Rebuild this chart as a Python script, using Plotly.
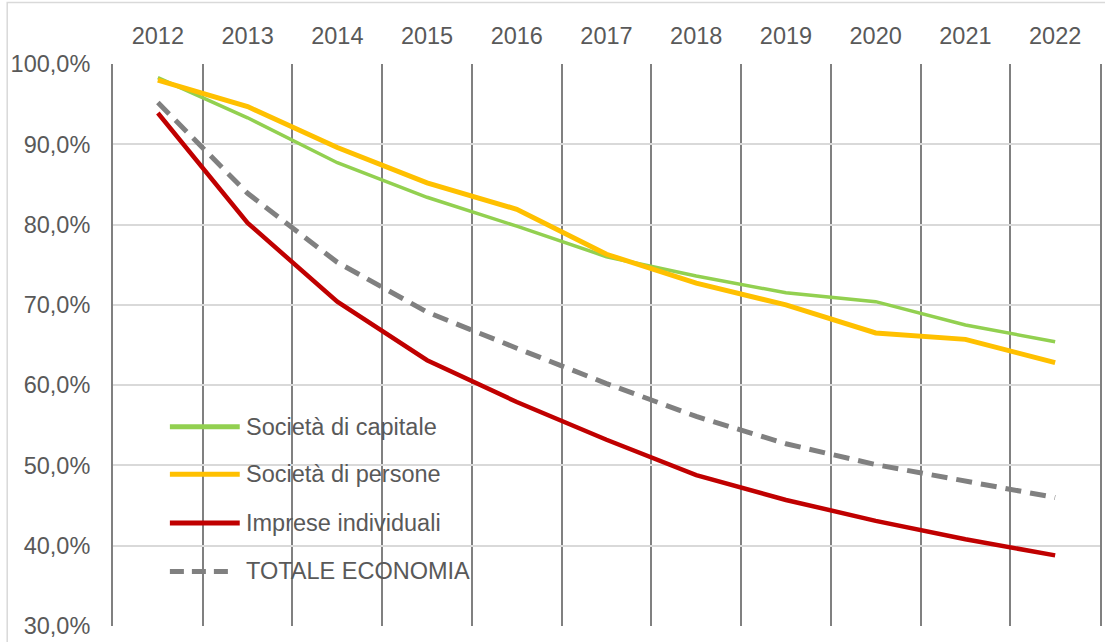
import plotly.graph_objects as go

years = ["2012", "2013", "2014", "2015", "2016", "2017", "2018", "2019", "2020", "2021", "2022"]
soc_capitale = [98.3, 93.3, 87.7, 83.4, 79.8, 76.0, 73.6, 71.5, 70.4, 67.5, 65.4]
soc_persone = [98.0, 94.7, 89.6, 85.2, 81.9, 76.3, 72.7, 70.0, 66.5, 65.7, 62.8]
imprese_ind = [93.9, 80.2, 70.4, 63.1, 57.9, 53.2, 48.8, 45.7, 43.1, 40.8, 38.8]
totale = [95.2, 83.9, 75.3, 69.1, 64.6, 60.2, 56.1, 52.7, 50.1, 48.1, 46.0]
y_ticks = [30, 40, 50, 60, 70, 80, 90, 100]
y_labels = ["30,0%", "40,0%", "50,0%", "60,0%", "70,0%", "80,0%", "90,0%", "100,0%"]

series = [
    ("Società di capitale", soc_capitale, "#92d050", 3.5, "solid"),
    ("Società di persone", soc_persone, "#ffc000", 5, "solid"),
    ("Imprese individuali", imprese_ind, "#c00000", 4.5, "solid"),
    ("TOTALE ECONOMIA", totale, "#808080", 5, "16px,9px"),
]

W, H = 1105, 642
L, R, T, B = 113, 3, 64, 11
pw, ph = W - L - R, H - T - B

def px_x(px):
    return (px - L) / pw

def px_y(py):
    return (H - B - py) / ph

fig = go.Figure()
for name, vals, color, width, dash in series:
    fig.add_trace(go.Scatter(
        x=years, y=vals, mode="lines", name=name,
        line=dict(color=color, width=width, dash=dash),
        showlegend=False,
    ))

font_family = "Liberation Sans, Arial, sans-serif"
text_color = "#595959"
fs = 23.5

shapes = []
annotations = []
# custom legend
leg_y = [430, 478, 527, 576]
for (name, vals, color, width, dash), ly in zip(series, leg_y):
    x1 = 236 if dash != "solid" else 240
    shapes.append(dict(type="line", xref="paper", yref="paper",
                       x0=px_x(170), x1=px_x(x1), y0=px_y(ly), y1=px_y(ly),
                       line=dict(color=color, width=5,
                                 dash=dash if dash == "solid" else "14px,8px")))
    annotations.append(dict(xref="paper", yref="paper", x=px_x(244), y=px_y(ly),
                            text=name, showarrow=False, xanchor="left", yanchor="middle",
                            font=dict(size=fs, color=text_color, family=font_family)))

# outer chart border (only top and left visible)
shapes.append(dict(type="rect", xref="paper", yref="paper",
                   x0=px_x(7), x1=px_x(1112), y0=px_y(2), y1=px_y(652),
                   line=dict(color="#d9d9d9", width=1.5), layer="below"))

fig.update_layout(
    width=W, height=H,
    margin=dict(l=L, r=R, t=T, b=B),
    paper_bgcolor="white", plot_bgcolor="white",
    font=dict(family=font_family, size=fs, color=text_color),
    shapes=shapes, annotations=annotations,
    xaxis=dict(
        type="category", side="top", range=[-0.5, 10.5],
        tickson="boundaries", showgrid=True, gridcolor="#808080", gridwidth=2,
        ticks="", ticklabelstandoff=14,
        showline=False, zeroline=False,
        tickfont=dict(size=fs, color=text_color),
    ),
    yaxis=dict(
        range=[30, 100], tickvals=y_ticks, ticktext=y_labels,
        showgrid=True, gridcolor="#d9d9d9", gridwidth=1.5,
        ticks="", ticklabelstandoff=16,
        showline=True, linecolor="#808080", linewidth=2, mirror=True,
        zeroline=False, ticklabeloverflow="allow",
        tickfont=dict(size=fs, color=text_color),
    ),
)

fig.write_html("out.html", config={"displayModeBar": False},
               post_script="document.body.style.margin='0';document.body.style.overflow='hidden';")
